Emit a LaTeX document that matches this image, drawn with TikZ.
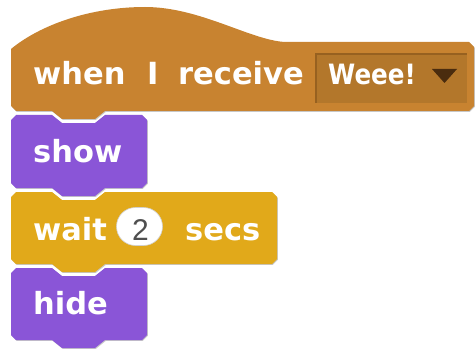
\documentclass[tikz,border=0pt]{standalone}
\usepackage{fontspec}
\newfontfamily\blockfont{DejaVu Sans}
\newfontfamily\numfont{Liberation Sans}
\definecolor{events}{HTML}{C88330}
\definecolor{eventsmenu}{HTML}{B3772B}
\definecolor{eventsmenudark}{HTML}{976120}
\definecolor{looks}{HTML}{8A55D7}
\definecolor{control}{HTML}{E1A91A}
\definecolor{arrowbrown}{HTML}{4A2C0E}
\definecolor{numgray}{HTML}{4F4F4F}

% stack block: left, top, right, bottom; notch on top, tab below
\newcommand\stackpath[4]{%
  (#1,{#2+5}) -- ({#1+5},#2) -- (52,#2) -- (62,{#2+8}) -- (95,{#2+8}) -- (105,#2)
  -- ({#3-5},#2) -- (#3,{#2+5}) -- (#3,{#4-5}) -- ({#3-5},#4)
  -- (105,#4) -- (95,{#4+8}) -- (62,{#4+8}) -- (52,#4)
  -- ({#1+5},#4) -- (#1,{#4-5}) -- cycle}

\tikzset{
  lbl/.style={inner sep=0pt, text=white, anchor=base west,
    font=\blockfont\bfseries\fontsize{30.5}{36}\selectfont},
  blockshadow/.style={fill=black, opacity=0.22},
}

\begin{document}
\begin{tikzpicture}[x=1pt,y=-1pt]
  \useasboundingbox (0,0) rectangle (476,350);
  \fill[white] (0,0) rectangle (476,350);

  % hat block: when I receive
  \fill[blockshadow, shift={(0.8,0.9)}]
    (11,106) -- (11,49) .. controls (40,25) and (90,7) .. (145,7)
    .. controls (200,7) and (250,40) .. (285,42) -- (469,42) -- (474,47)
    -- (474,106) -- (469,111) -- (105,111) -- (95,119) -- (62,119) -- (52,111)
    -- (16,111) -- cycle;
  \fill[events]
    (11,106) -- (11,49) .. controls (40,25) and (90,7) .. (145,7)
    .. controls (200,7) and (250,40) .. (285,42) -- (469,42) -- (474,47)
    -- (474,106) -- (469,111) -- (105,111) -- (95,119) -- (62,119) -- (52,111)
    -- (16,111) -- cycle;

  % message menu
  \fill[eventsmenu] (315,53) rectangle (467,103);
  \draw[eventsmenudark, line width=1.6pt] (315.8,103) -- (315.8,53.8) -- (467,53.8);
  \fill[arrowbrown] (432,69) -- (457,69) -- (444.5,83) -- cycle;

  \node[lbl] (when) at (33,85) {when};
  \node[lbl] (iword) at (147,85) {I};
  \node[lbl] (receive) at (178,85) {receive};
  \node[inner sep=0pt, text=white, anchor=base west,
    font=\blockfont\bfseries\fontsize{28}{32}\selectfont] (msg) at (328,85)
    {\scalebox{0.88}[1]{Weee!}};

  % show
  \fill[blockshadow, shift={(0.8,0.9)}] \stackpath{11}{115}{147}{188};
  \fill[looks] \stackpath{11}{115}{147}{188};
  \node[lbl] (show) at (33,162) {show};

  % wait 2 secs
  \fill[blockshadow, shift={(0.8,0.9)}] \stackpath{11}{192}{277}{264};
  \fill[control] \stackpath{11}{192}{277}{264};
  \node[lbl] (wait) at (33,240) {wait};
  \node[fill=white, draw=black!18, line width=0.6pt, rounded corners=19pt,
    minimum width=46pt, minimum height=38pt, inner sep=0pt] (num) at (139.5,226.5) {};
  \node[inner sep=0pt, anchor=base, text=numgray,
    font=\numfont\fontsize{30}{34}\selectfont] (two) at (140.5,240) {2};
  \node[lbl] (secs) at (185,240) {secs};

  % hide
  \fill[blockshadow, shift={(0.8,0.9)}] \stackpath{11}{268}{147}{340};
  \fill[looks] \stackpath{11}{268}{147}{340};
  \node[lbl] (hide) at (33,314) {hide};
\end{tikzpicture}
\end{document}
